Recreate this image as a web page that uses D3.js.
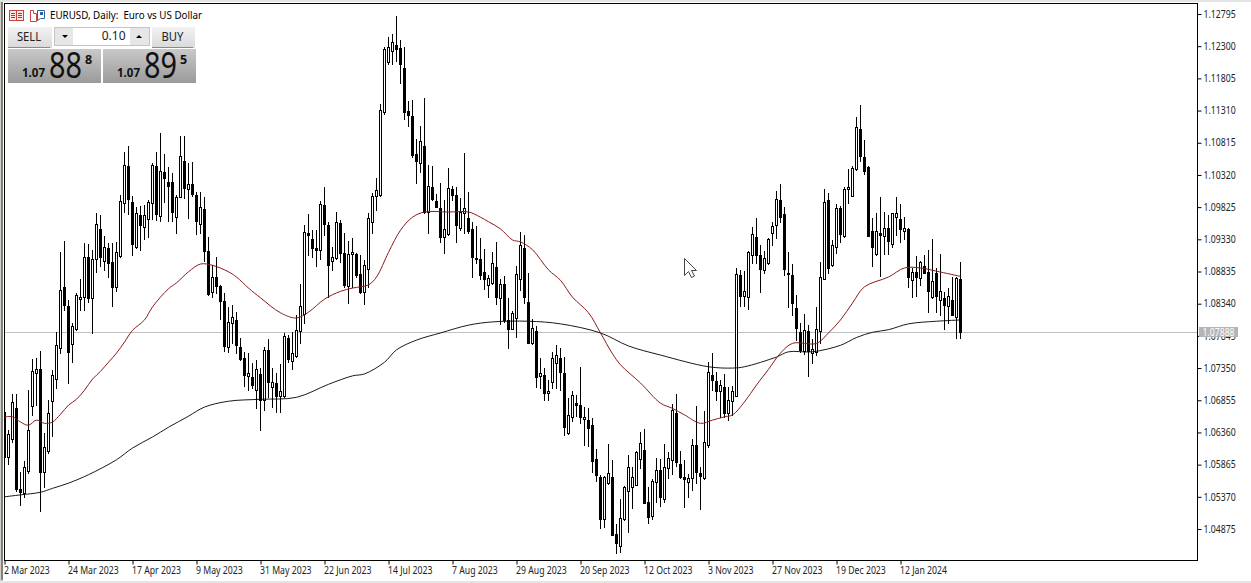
<!DOCTYPE html>
<html>
<head>
<meta charset="utf-8">
<title>EURUSD, Daily</title>
<script src="https://cdn.jsdelivr.net/npm/d3@7"></script>
<style>
  html, body { margin: 0; padding: 0; background: #fff; overflow: hidden; }
  svg { display: block; }
  text { font-family: "Noto Sans", sans-serif; }
</style>
</head>
<body>
<div id="chart"></div>
<script>
// daily candles (240 bars, 2 Mar 2023 onwards)
const opens = [
  1.0667,1.0598,1.0626,1.0673,1.0549,1.0543,1.0577,1.0677,1.0727,1.0733,
  1.0575,1.0607,1.0684,1.0718,1.0766,1.0859,1.0830,1.0772,1.0795,1.0841,
  1.0844,1.0906,1.0843,1.0903,1.0949,1.0900,1.0919,1.0898,1.0859,1.0907,
  1.0989,1.1046,1.0990,1.0921,1.0970,1.0952,1.0964,1.0989,1.1046,1.0969,
  1.1036,1.1021,1.1021,1.0967,1.0998,1.1053,1.1010,1.1018,1.1001,1.0957,
  1.0980,1.0915,1.0852,1.0875,1.0861,1.0838,1.0767,1.0804,1.0809,1.0767,
  1.0750,1.0723,1.0721,1.0701,1.0726,1.0686,1.0763,1.0706,1.0712,1.0692,
  1.0692,1.0781,1.0746,1.0753,1.0792,1.0818,1.0943,1.0933,1.0919,1.0916,
  1.0986,1.0955,1.0900,1.0904,1.0958,1.0912,1.0861,1.0910,1.0910,1.0880,
  1.0852,1.0887,1.0960,1.0999,1.1001,1.1129,1.1206,1.1223,1.1232,1.1227,
  1.1196,1.1130,1.1123,1.1064,1.1050,1.1076,1.0975,1.1013,1.0992,1.0981,
  1.0936,1.0941,1.1010,1.1001,1.0950,1.0973,1.0966,1.0949,1.0904,1.0903,
  1.0883,1.0863,1.0866,1.0890,1.0843,1.0864,1.0809,1.0795,1.0812,1.0872,
  1.0919,1.0836,1.0773,1.0792,1.0723,1.0724,1.0697,1.0713,1.0743,1.0750,
  1.0727,1.0635,1.0660,1.0681,1.0678,1.0657,1.0655,1.0647,1.0595,1.0568,
  1.0503,1.0558,1.0568,1.0480,1.0461,1.0503,1.0546,1.0552,1.0555,1.0595,
  1.0609,1.0529,1.0508,1.0560,1.0578,1.0534,1.0581,1.0594,1.0666,1.0587,
  1.0568,1.0560,1.0566,1.0617,1.0574,1.0566,1.0617,1.0724,1.0715,1.0700,
  1.0706,1.0666,1.0684,1.0692,1.0878,1.0846,1.0844,1.0909,1.0936,1.0909,
  1.0886,1.0897,1.0943,1.0955,1.0993,1.0972,1.0881,1.0878,1.0827,1.0790,
  1.0761,1.0792,1.0758,1.0760,1.0792,1.0872,1.0993,1.0893,1.0921,1.0981,
  1.0938,1.1010,1.0999,1.1041,1.1103,1.1060,1.1044,1.0946,1.0910,1.0943,
  1.0938,1.0950,1.0926,1.0967,1.0964,1.0946,1.0949,1.0870,1.0883,1.0873,
  1.0892,1.0883,1.0844,1.0881,1.0840,1.0843,1.0830,1.0840,1.0813,1.0872
];
const closes = [
  1.0598,1.0634,1.0683,1.0549,1.0544,1.0583,1.0640,1.0730,1.0733,1.0575,
  1.0614,1.0666,1.0724,1.0770,1.0855,1.0832,1.0760,1.0800,1.0847,1.0844,
  1.0906,1.0843,1.0903,1.0957,1.0906,1.0921,1.0897,1.0859,1.0913,1.0992,
  1.1047,1.0995,1.0926,1.0973,1.0955,1.0970,1.0990,1.1047,1.0972,1.1038,
  1.1027,1.1015,1.0975,1.0998,1.1061,1.1012,1.1018,1.1003,1.0961,1.0983,
  1.0915,1.0849,1.0875,1.0861,1.0838,1.0769,1.0806,1.0813,1.0770,1.0749,
  1.0724,1.0727,1.0709,1.0733,1.0686,1.0763,1.0713,1.0713,1.0692,1.0700,
  1.0784,1.0749,1.0758,1.0793,1.0830,1.0944,1.0940,1.0919,1.0916,1.0987,
  1.0957,1.0893,1.0906,1.0960,1.0912,1.0863,1.0910,1.0913,1.0878,1.0852,
  1.0893,1.0966,1.0999,1.1009,1.1132,1.1226,1.1229,1.1236,1.1226,1.1203,
  1.1129,1.1124,1.1063,1.1053,1.1084,1.0975,1.1015,1.0995,1.0983,1.0936,
  1.0949,1.1012,1.1001,1.0955,1.0975,1.0981,1.0946,1.0906,1.0903,1.0878,
  1.0872,1.0873,1.0897,1.0844,1.0864,1.0809,1.0795,1.0819,1.0880,1.0924,
  1.0844,1.0773,1.0796,1.0721,1.0727,1.0697,1.0700,1.0750,1.0755,1.0729,
  1.0644,1.0663,1.0694,1.0678,1.0660,1.0660,1.0643,1.0592,1.0571,1.0503,
  1.0568,1.0574,1.0478,1.0466,1.0504,1.0552,1.0583,1.0568,1.0606,1.0620,
  1.0527,1.0506,1.0561,1.0578,1.0537,1.0583,1.0596,1.0670,1.0590,1.0568,
  1.0564,1.0566,1.0617,1.0575,1.0569,1.0621,1.0729,1.0716,1.0700,1.0709,
  1.0666,1.0686,1.0700,1.0880,1.0846,1.0853,1.0913,1.0941,1.0909,1.0887,
  1.0904,1.0933,1.0953,1.0995,1.0967,1.0887,1.0880,1.0835,1.0796,1.0763,
  1.0793,1.0761,1.0764,1.0795,1.0875,1.0990,1.0889,1.0924,1.0981,1.0941,
  1.1010,1.1013,1.1043,1.1106,1.1061,1.1038,1.0938,1.0921,1.0946,1.0940,
  1.0950,1.0930,1.0973,1.0973,1.0949,1.0950,1.0875,1.0883,1.0875,1.0898,
  1.0881,1.0853,1.0869,1.0846,1.0853,1.0832,1.0846,1.0816,1.0873,1.0790
];
const highs = [
  1.0670,1.0640,1.0695,1.0695,1.0575,1.0592,1.0701,1.0749,1.0750,1.0761,
  1.0635,1.0686,1.0732,1.0790,1.0913,1.0930,1.0840,1.0804,1.0850,1.0872,
  1.0927,1.0926,1.0916,1.0973,1.0970,1.0938,1.0927,1.0927,1.0929,1.1001,
  1.1067,1.1076,1.0999,1.0983,1.0984,1.0986,1.0993,1.1050,1.1067,1.1096,
  1.1064,1.1044,1.1035,1.1001,1.1092,1.1092,1.1050,1.1052,1.1006,1.1006,
  1.0998,1.0936,1.0893,1.0906,1.0863,1.0850,1.0829,1.0832,1.0821,1.0781,
  1.0760,1.0758,1.0743,1.0747,1.0735,1.0767,1.0780,1.0735,1.0727,1.0741,
  1.0789,1.0786,1.0790,1.0816,1.0864,1.0955,1.0972,1.0947,1.0947,1.0992,
  1.1013,1.0960,1.0921,1.0975,1.0963,1.0943,1.0930,1.0935,1.0912,1.0909,
  1.0901,1.0973,1.1004,1.1027,1.1141,1.1229,1.1244,1.1249,1.1276,1.1240,
  1.1229,1.1146,1.1147,1.1087,1.1107,1.1150,1.1047,1.1046,1.1003,1.1020,
  1.0993,1.1043,1.1015,1.1013,1.0996,1.1066,1.1006,1.0960,1.0953,1.0935,
  1.0918,1.0878,1.0913,1.0929,1.0872,1.0877,1.0843,1.0823,1.0892,1.0944,
  1.0940,1.0881,1.0810,1.0800,1.0750,1.0735,1.0716,1.0760,1.0770,1.0766,
  1.0752,1.0689,1.0700,1.0694,1.0737,1.0675,1.0673,1.0658,1.0610,1.0571,
  1.0569,1.0618,1.0594,1.0495,1.0534,1.0553,1.0601,1.0583,1.0607,1.0637,
  1.0641,1.0552,1.0564,1.0597,1.0595,1.0618,1.0606,1.0680,1.0695,1.0607,
  1.0594,1.0572,1.0626,1.0677,1.0583,1.0669,1.0744,1.0758,1.0729,1.0717,
  1.0726,1.0706,1.0707,1.0889,1.0886,1.0884,1.0915,1.0952,1.0966,1.0924,
  1.0915,1.0935,1.0960,1.1007,1.1018,1.0983,1.0913,1.0895,1.0847,1.0804,
  1.0818,1.0801,1.0780,1.0829,1.0898,1.1010,1.1004,1.0932,1.0987,1.0984,
  1.1013,1.1041,1.1046,1.1121,1.1139,1.1086,1.1046,1.0966,1.0973,1.0998,
  1.0975,1.0970,1.0973,1.0998,1.0987,1.0967,1.0950,1.0889,1.0907,1.0900,
  1.0909,1.0917,1.0933,1.0889,1.0910,1.0852,1.0858,1.0875,1.0875,1.0898
];
const lows = [
  1.0594,1.0587,1.0621,1.0546,1.0524,1.0537,1.0574,1.0663,1.0678,1.0515,
  1.0552,1.0604,1.0630,1.0704,1.0758,1.0824,1.0712,1.0744,1.0793,1.0824,
  1.0824,1.0836,1.0789,1.0883,1.0892,1.0886,1.0875,1.0830,1.0853,1.0906,
  1.0975,1.0972,1.0909,1.0919,1.0917,1.0933,1.0936,1.0964,1.0963,1.0961,
  1.0990,1.0961,1.0961,1.0943,1.0998,1.0997,1.0966,1.0999,1.0941,1.0943,
  1.0900,1.0847,1.0844,1.0850,1.0810,1.0761,1.0760,1.0773,1.0758,1.0747,
  1.0707,1.0701,1.0704,1.0673,1.0640,1.0670,1.0690,1.0675,1.0667,1.0667,
  1.0690,1.0744,1.0733,1.0752,1.0773,1.0804,1.0909,1.0906,1.0892,1.0903,
  1.0940,1.0844,1.0886,1.0903,1.0898,1.0859,1.0835,1.0859,1.0875,1.0850,
  1.0833,1.0859,1.0943,1.0978,1.0999,1.1126,1.1203,1.1203,1.1207,1.1173,
  1.1118,1.1107,1.1060,1.1020,1.1036,1.0973,1.0943,1.0993,1.0983,1.0929,
  1.0912,1.0940,1.0993,1.0929,1.0947,1.0943,1.0943,1.0875,1.0897,1.0872,
  1.0856,1.0844,1.0864,1.0833,1.0803,1.0806,1.0766,1.0795,1.0783,1.0855,
  1.0835,1.0773,1.0772,1.0706,1.0704,1.0686,1.0686,1.0704,1.0704,1.0701,
  1.0632,1.0634,1.0653,1.0661,1.0650,1.0617,1.0615,1.0575,1.0561,1.0489,
  1.0491,1.0557,1.0478,1.0451,1.0452,1.0501,1.0483,1.0520,1.0555,1.0581,
  1.0527,1.0497,1.0503,1.0529,1.0523,1.0529,1.0566,1.0572,1.0584,1.0566,
  1.0521,1.0537,1.0547,1.0558,1.0518,1.0564,1.0614,1.0701,1.0686,1.0660,
  1.0660,1.0655,1.0663,1.0692,1.0830,1.0830,1.0826,1.0897,1.0897,1.0852,
  1.0881,1.0895,1.0924,1.0935,1.0960,1.0878,1.0829,1.0816,1.0778,1.0760,
  1.0757,1.0723,1.0743,1.0755,1.0773,1.0872,1.0881,1.0892,1.0912,1.0929,
  1.0936,1.0989,1.0999,1.1039,1.1053,1.1033,1.0938,1.0892,1.0909,1.0876,
  1.0910,1.0910,1.0921,1.0940,1.0929,1.0933,1.0859,1.0844,1.0846,1.0863,
  1.0881,1.0821,1.0843,1.0821,1.0816,1.0795,1.0804,1.0816,1.0781,1.0781
];
// moving averages at these bar numbers
const redBars = [0,2,4,6,8,10,12,14,16,18,20,22,24,26,28,30,32,35,37,41,43,46,49,52,56,58,61,64,69,73,76,80,84,87,91,93,96,99,102,105,111,116,119,121,124,127,129,132,136,139,142,146,149,152,154,159,164,167,170,174,177,180,182,185,188,191,194,197,203,206,209,212,215,221,225,229,233,239];
const redValues = [1.0660,1.0660,1.0652,1.0647,1.0655,1.0650,1.0652,1.0664,1.0678,1.0687,1.0701,1.0718,1.0730,1.0744,1.0758,1.0775,1.0793,1.0809,1.0829,1.0857,1.0866,1.0883,1.0895,1.0893,1.0883,1.0875,1.0858,1.0843,1.0820,1.0812,1.0821,1.0841,1.0853,1.0858,1.0863,1.0875,1.0913,1.0947,1.0967,1.0975,1.0975,1.0975,1.0967,1.0960,1.0949,1.0932,1.0929,1.0917,1.0886,1.0870,1.0844,1.0820,1.0789,1.0757,1.0740,1.0712,1.0681,1.0673,1.0663,1.0650,1.0655,1.0660,1.0663,1.0683,1.0709,1.0733,1.0758,1.0773,1.0773,1.0789,1.0809,1.0835,1.0860,1.0875,1.0889,1.0889,1.0884,1.0876];
const blackBars = [0,4,9,12,16,21,28,32,37,41,46,50,56,64,73,81,87,90,95,98,103,109,116,122,131,139,149,156,164,176,182,185,193,196,202,209,213,217,221,226,233,239];
const blackValues = [1.0537,1.0540,1.0544,1.0550,1.0558,1.0571,1.0594,1.0612,1.0629,1.0644,1.0661,1.0675,1.0684,1.0687,1.0690,1.0710,1.0723,1.0726,1.0744,1.0763,1.0778,1.0789,1.0801,1.0806,1.0807,1.0803,1.0789,1.0769,1.0755,1.0737,1.0735,1.0737,1.0752,1.0760,1.0760,1.0770,1.0782,1.0790,1.0794,1.0803,1.0807,1.0809];
// axis labels
const priceTicks = [1.12795,1.12300,1.11805,1.11310,1.10815,1.10320,1.09825,1.09330,1.08835,1.08340,1.07845,1.07350,1.06855,1.06360,1.05865,1.05370,1.04875];
const dateTicks = [0,16,32,48,64,80,96,112,128,144,160,176,192,208,224];
const dateLabels = ['2 Mar 2023','24 Mar 2023','17 Apr 2023','9 May 2023','31 May 2023','22 Jun 2023','14 Jul 2023','7 Aug 2023','29 Aug 2023','20 Sep 2023','12 Oct 2023','3 Nov 2023','27 Nov 2023','19 Dec 2023','12 Jan 2024'];
const bid = 1.07888;
// ---------------------------------------------------------------------------------------------
const width = 1251;
const height = 583;
const left = 4;
const right = 1197;
const top_ = 3;
const bottom = 560;

const svg = d3.select('#chart').append('svg')
  .attr('width', width)
  .attr('height', height);

const x = d3.scaleLinear().domain([0, 16]).range([left + 0.5, left + 64.5]);
const y = d3.scaleLinear().domain([1.12795, 1.04875]).range([14, 529]);
const snap = v => Math.round(y(v));
// the terminal font is narrower than anything installed, squeeze the glyphs a little
const squeeze = (sel, k) => sel.each(function () {
  d3.select(this)
    .attr('textLength', this.getComputedTextLength() * k)
    .attr('lengthAdjust', 'spacingAndGlyphs');
});

const defs = svg.append('defs');
defs.append('clipPath').attr('id', 'plot').append('rect')
  .attr('x', left).attr('y', top_).attr('width', right - left).attr('height', bottom - top_);
const addGradient = (id, from, to) => {
  const g = defs.append('linearGradient').attr('id', id).attr('x1', 0).attr('y1', 0).attr('x2', 0).attr('y2', 1);
  g.append('stop').attr('offset', 0).attr('stop-color', from);
  g.append('stop').attr('offset', 1).attr('stop-color', to);
};
addGradient('panel', '#c9c9c9', '#9a9a9a');
addGradient('button', '#f2f2f2', '#d9d9d9');

// window edges -------------------------------------------------------------------------------
svg.append('rect').attr('width', width).attr('height', height).attr('fill', '#fff');
svg.append('rect').attr('x', 0).attr('y', 0).attr('width', 3).attr('height', height).attr('fill', '#d4d0c8');
svg.append('rect').attr('x', 1).attr('y', 0).attr('width', 2).attr('height', 580).attr('fill', '#808080');
svg.append('rect').attr('x', 0).attr('y', 581).attr('width', width).attr('height', 2).attr('fill', '#e4e4e4');
svg.append('rect').attr('x', 0).attr('y', 0).attr('width', width).attr('height', 2).attr('fill', '#e4e4e4');

// bid line under the candles -----------------------------------------------------------------
svg.append('line')
  .attr('x1', left).attr('x2', right)
  .attr('y1', snap(bid) - 0.5).attr('y2', snap(bid) - 0.5)
  .attr('stroke', '#c0c0c0');

// candles ------------------------------------------------------------------------------------
const plot = svg.append('g').attr('clip-path', 'url(#plot)');
const candles = plot.selectAll('.candle')
  .data(opens.map((o, i) => ({i, o, c: closes[i], h: highs[i], l: lows[i]})))
  .enter()
  .append('g')
  .attr('class', 'candle')
  .attr('shape-rendering', 'crispEdges');
candles.append('line')
  .attr('x1', d => x(d.i)).attr('x2', d => x(d.i))
  .attr('y1', d => snap(d.h)).attr('y2', d => snap(d.l) + 1)
  .attr('stroke', '#000');
candles.append('rect')
  .attr('x', d => x(d.i) - 1)
  .attr('width', 2)
  .attr('y', d => snap(Math.max(d.o, d.c)) + 0.5)
  .attr('height', d => Math.max(snap(Math.min(d.o, d.c)) - snap(Math.max(d.o, d.c)), 1))
  .attr('fill', d => d.c >= d.o ? '#fff' : '#000')
  .attr('stroke', '#000');

// moving averages ----------------------------------------------------------------------------
const maLine = d3.line().x(d => x(d[0])).y(d => y(d[1])).curve(d3.curveCatmullRom.alpha(0.5));
plot.append('path')
  .attr('d', maLine(blackBars.map((b, i) => [b, blackValues[i]])))
  .attr('fill', 'none').attr('stroke', '#000').attr('stroke-width', 0.9);
plot.append('path')
  .attr('d', maLine(redBars.map((b, i) => [b, redValues[i]])))
  .attr('fill', 'none').attr('stroke', '#8b1a1a').attr('stroke-width', 1);

// frame and axes -----------------------------------------------------------------------------
svg.append('rect')
  .attr('x', left + 0.5).attr('y', top_ + 0.5)
  .attr('width', right - left).attr('height', bottom - top_)
  .attr('fill', 'none').attr('stroke', '#000').attr('shape-rendering', 'crispEdges');

const yAxis = svg.append('g')
  .attr('transform', 'translate(' + (right + 0.5) + ',0)')
  .call(d3.axisRight(y).tickValues(priceTicks).tickSize(4).tickPadding(2).tickFormat(d3.format('.5f')));
const xAxis = svg.append('g')
  .attr('transform', 'translate(0,' + (bottom + 0.5) + ')')
  .call(d3.axisBottom(x).tickValues(dateTicks).tickSize(4).tickPadding(2).tickFormat((d, i) => dateLabels[i]));
[yAxis, xAxis].forEach(a => {
  a.select('.domain').remove();
  a.selectAll('text').attr('fill', '#222').style('font-family', '"Noto Sans", sans-serif').style('font-size', '10px');
  a.selectAll('line').attr('stroke', '#000');
});
xAxis.selectAll('text').attr('text-anchor', 'start').attr('x', -1);
squeeze(yAxis.selectAll('text'), 0.87);
squeeze(xAxis.selectAll('text'), 0.87);

// bid label ----------------------------------------------------------------------------------
svg.append('rect').attr('x', 1199).attr('y', 327).attr('width', 39).attr('height', 10).attr('fill', '#b4b4b4');
squeeze(svg.append('text').attr('x', 1218.5).attr('y', 336).attr('text-anchor', 'middle')
  .attr('fill', '#fff').style('font-size', '10px').text('1.07888'), 0.87);

// title and icons ----------------------------------------------------------------------------
const icon1 = svg.append('g').attr('fill', 'none');
icon1.append('rect').attr('x', 9.5).attr('y', 10.5).attr('width', 14).attr('height', 10).attr('stroke', '#c9463c').attr('fill', '#fbe7e4');
icon1.append('line').attr('x1', 16.5).attr('x2', 16.5).attr('y1', 11).attr('y2', 20).attr('stroke', '#c9463c');
[13.5, 15.5, 17.5].forEach(v => {
  icon1.append('line').attr('x1', 11).attr('x2', 15).attr('y1', v).attr('y2', v).attr('stroke', '#2f5fa8');
  icon1.append('line').attr('x1', 18).attr('x2', 22).attr('y1', v).attr('y2', v).attr('stroke', '#2f5fa8');
});
const icon2 = svg.append('g').attr('fill', '#fff');
icon2.append('path').attr('d', 'M30.5 10.5h3v3h3v8h-6z').attr('stroke', '#c9463c');
icon2.append('path').attr('d', 'M37.5 10.5h7v8h-4l-3 2z').attr('stroke', '#2f5fa8');
icon2.append('rect').attr('x', 40).attr('y', 12).attr('width', 3).attr('height', 3).attr('fill', '#2f5fa8');

svg.append('text').attr('x', 50).attr('y', 19).attr('fill', '#000')
  .attr('textLength', 152).attr('lengthAdjust', 'spacingAndGlyphs')
  .style('font-size', '10.5px').style('white-space', 'pre')
  .text('EURUSD, Daily:  Euro vs US Dollar');

// one click trading panel --------------------------------------------------------------------
const panel = svg.append('g');
const button = (bx, label, w) => {
  panel.append('rect').attr('x', bx).attr('y', 27).attr('width', w).attr('height', 21).attr('fill', 'url(#button)');
  panel.append('line').attr('x1', bx + 0).attr('x2', bx + w - 2).attr('y1', 47.5).attr('y2', 47.5).attr('stroke', '#8a8a8a');
  squeeze(panel.append('text').attr('x', bx + w / 2 - 1).attr('y', 41).attr('text-anchor', 'middle')
    .attr('fill', '#222').style('font-size', '12.5px').text(label), 0.9);
};
button(8, 'SELL', 44);
button(152, 'BUY', 43);

panel.append('rect').attr('x', 54.5).attr('y', 27.5).attr('width', 95).attr('height', 18).attr('fill', '#fff').attr('stroke', '#c4c4c4');
panel.append('rect').attr('x', 55).attr('y', 28).attr('width', 18).attr('height', 17).attr('fill', '#e6e6e6');
panel.append('rect').attr('x', 130).attr('y', 28).attr('width', 19).attr('height', 17).attr('fill', '#e6e6e6');
panel.append('path').attr('d', 'M62 35h6l-3 3z').attr('fill', '#000');
panel.append('path').attr('d', 'M136 38h6l-3-3z').attr('fill', '#000');
panel.append('text').attr('x', 125.5).attr('y', 40).attr('text-anchor', 'end')
  .attr('fill', '#222').style('font-size', '12px').text('0.10');

const quote = (bx, digits, last) => {
  panel.append('rect').attr('x', bx).attr('y', 49).attr('width', 93).attr('height', 34).attr('fill', 'url(#panel)');
  panel.append('text').attr('x', bx + 14).attr('y', 77).attr('fill', '#111')
    .style('font-size', '11.5px').style('font-weight', 700).text('1.07');
  panel.append('text').attr('x', bx + 41).attr('y', 78).attr('fill', '#111')
    .attr('textLength', 33).attr('lengthAdjust', 'spacingAndGlyphs')
    .style('font-size', '36px').text(digits);
  panel.append('text').attr('x', bx + 77).attr('y', 64).attr('fill', '#111')
    .style('font-size', '12.5px').style('font-weight', 700).text(last);
};
quote(8, '88', '8');
quote(103, '89', '5');

// mouse pointer left on the screenshot -------------------------------------------------------
svg.append('path')
  .attr('d', 'M684.5 258.5V275.5L688.5 271.5L691.5 277.5L694.5 276L691.5 270.5H696.5Z')
  .attr('fill', '#fff').attr('stroke', '#444');
</script>
</body>
</html>
